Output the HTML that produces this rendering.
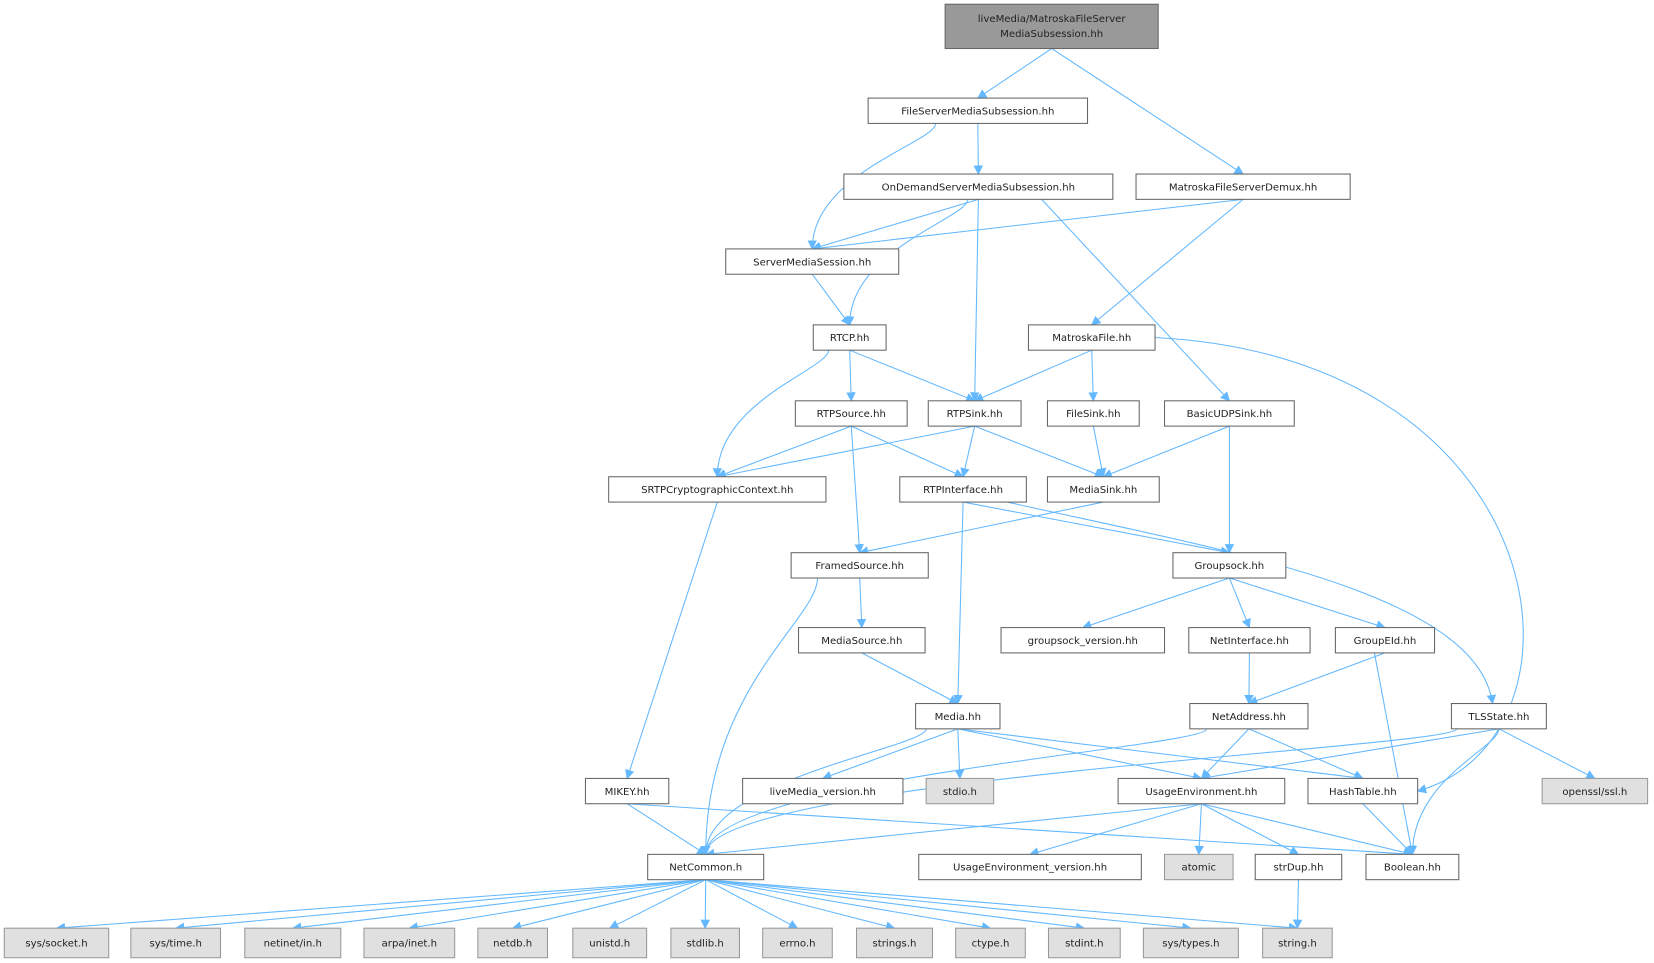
<!DOCTYPE html>
<html><head><meta charset="utf-8"><style>
html,body{margin:0;padding:0;background:#fff;}
svg{display:block}
text{font-family:"DejaVu Sans","Liberation Sans",sans-serif;font-size:9.6px;fill:#222}
</style></head><body>
<svg id="s" width="1654" height="963" viewBox="0 0 1568 913" xmlns="http://www.w3.org/2000/svg">
<defs><marker id="a" viewBox="0 0 10 10" refX="9" refY="5" markerWidth="9" markerHeight="9" orient="auto" markerUnits="userSpaceOnUse"><path d="M0,0 L10,5 L0,10 z" fill="#63b8ff"/></marker></defs>
<g id="e" fill="none" stroke="#63b8ff" stroke-width="1"></g>
<g id="n"></g>
</svg>
<script>
var N={
top:[896,4,1098,46,"liveMedia/MatroskaFileServer|MediaSubsession.hh",2],
fs:[823,93,1031,117,"FileServerMediaSubsession.hh"],
od:[800,165,1055,189,"OnDemandServerMediaSubsession.hh"],
md:[1077,165,1280,189,"MatroskaFileServerDemux.hh"],
sms:[688,236,852,260,"ServerMediaSession.hh"],
rtcp:[771,308,840,332,"RTCP.hh"],
mf:[975,308,1095,332,"MatroskaFile.hh"],
rsrc:[754,380,860,404,"RTPSource.hh"],
rsink:[880,380,968,404,"RTPSink.hh"],
fsink:[993,380,1080,404,"FileSink.hh"],
budp:[1104,380,1227,404,"BasicUDPSink.hh"],
srtp:[577,452,783,476,"SRTPCryptographicContext.hh"],
rif:[853,452,973,476,"RTPInterface.hh"],
msink:[993,452,1099,476,"MediaSink.hh"],
fsrc:[750,524,880,548,"FramedSource.hh"],
gs:[1112,524,1219,548,"Groupsock.hh"],
msrc:[757,595,877,619,"MediaSource.hh"],
gsv:[949,595,1104,619,"groupsock_version.hh"],
ni:[1127,595,1242,619,"NetInterface.hh"],
ge:[1266,595,1360,619,"GroupEId.hh"],
media:[868,667,948,691,"Media.hh"],
na:[1128,667,1240,691,"NetAddress.hh"],
tls:[1376,667,1466,691,"TLSState.hh"],
mikey:[555,738,634,762,"MIKEY.hh"],
lmv:[704,738,856,762,"liveMedia_version.hh"],
stdio:[878,738,942,762,"stdio.h",1],
ue:[1060,738,1218,762,"UsageEnvironment.hh"],
ht:[1240,738,1344,762,"HashTable.hh"],
ssl:[1462,738,1562,762,"openssl/ssl.h",1],
nc:[614,810,724,834,"NetCommon.h"],
uev:[871,810,1082,834,"UsageEnvironment_version.hh"],
atomic:[1104,810,1169,834,"atomic",1],
sd:[1190,810,1272,834,"strDup.hh"],
bool:[1295,810,1383,834,"Boolean.hh"]};
var bot=[["sys/socket.h",4,103],["sys/time.h",124,209],["netinet/in.h",232,323],["arpa/inet.h",345,431],["netdb.h",453,519],["unistd.h",543,613],["stdlib.h",636,701],["errno.h",723,789],["strings.h",812,884],["ctype.h",906,972],["stdint.h",994,1062],["sys/types.h",1084,1174],["string.h",1197,1263]];
bot.forEach(function(b,i){N["b"+i]=[b[1],880,b[2],908,b[0],1];});
var E=[["top","fs"],["top","md"],["fs","od"],["fs","sms",1,-40],["od","sms"],["od","rtcp",1,-10],["od","rsink"],["od","budp",0,60],["md","sms"],["md","mf"],["sms","rtcp"],["rtcp","rsrc"],["rtcp","rsink"],["rtcp","srtp",1,-20],["mf","rsink"],["mf","fsink"],["mf","ht",2],["rsrc","srtp"],["rsrc","rif"],["rsrc","fsrc"],["rsink","srtp"],["rsink","rif"],["rsink","msink"],["fsink","msink"],["budp","msink"],["budp","gs"],["srtp","mikey"],["rif","media"],["rif","gs"],["rif","tls",3],["msink","fsrc"],["fsrc","msrc"],["fsrc","nc",1,-40],["msrc","media"],["gs","gsv"],["gs","ni"],["gs","ge"],["ni","na"],["ge","na"],["ge","bool",0,-10],["media","lmv"],["media","stdio"],["media","ue"],["media","ht"],["media","nc",1,-30],["na","nc",1,-40],["na","ue"],["na","ht"],["tls","ue"],["tls","nc",1,-40],["tls","bool",1],["tls","ssl"],["mikey","nc"],["mikey","bool"],["ue","nc"],["ue","uev"],["ue","atomic"],["ue","sd"],["ue","bool"],["ht","bool"],["sd","b12"]];
for(var i=0;i<13;i++)E.push(["nc","b"+i]);
var ns="http://www.w3.org/2000/svg",eg=document.getElementById("e"),ng=document.getElementById("n");
function cx(n){return (n[0]+n[2])/2}
E.forEach(function(e){var a=N[e[0]],b=N[e[1]];var x1=cx(a)+(e[3]||0),y1=a[3],x2=cx(b),y2=b[1];
 var p=document.createElementNS(ns,"path"),d;
 if(e[2]==2){d="M"+a[2]+","+((a[1]+a[3])/2)+" C1480,340 1520,700 "+b[2]+","+((b[1]+b[3])/2);}
 else if(e[2]==3){d="M955,476 C1150,520 1400,560 1415,667";}
 else if(e[2]==1){var dy=(y2-y1)*0.5;d="M"+x1+","+y1+" C"+x1+","+(y1+dy*0.3)+" "+x2+","+(y2-dy*1.2)+" "+x2+","+y2;}
 else d="M"+x1+","+y1+" L"+x2+","+y2;
 p.setAttribute("d",d);p.setAttribute("marker-end","url(#a)");eg.appendChild(p);});
for(var k in N){var n=N[k];var r=document.createElementNS(ns,"rect");
 r.setAttribute("x",n[0]);r.setAttribute("y",n[1]);r.setAttribute("width",n[2]-n[0]);r.setAttribute("height",n[3]-n[1]);
 r.setAttribute("fill",n[5]==2?"#999":n[5]==1?"#e0e0e0":"#fff");r.setAttribute("stroke",n[5]==1?"#999":"#666");ng.appendChild(r);
 var ls=n[4].split("|");ls.forEach(function(l,j){var t=document.createElementNS(ns,"text");t.setAttribute("x",cx(n));
  t.setAttribute("y",ls.length==1?(n[1]+n[3])/2+3.5:n[1]+17+j*14);t.setAttribute("text-anchor","middle");t.textContent=l;ng.appendChild(t);});}
</script>
</body></html>
